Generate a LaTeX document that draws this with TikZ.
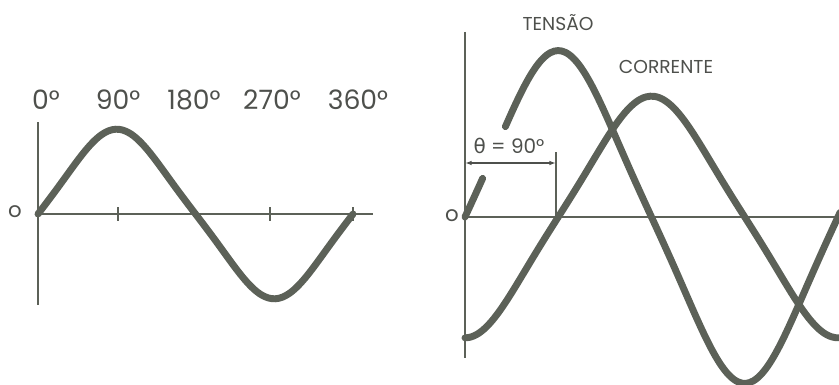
\documentclass[tikz,border=0pt]{standalone}
\usepackage{fontspec}
\setmainfont{Poppins}
\newfontfamily\greekfont{DejaVu Sans}
\usepackage{tikz}
\usetikzlibrary{arrows.meta,positioning,calc}
\definecolor{wgray}{RGB}{92,97,88}
\definecolor{tgray}{RGB}{78,80,76}

\begin{document}
\begin{tikzpicture}[x=0.75pt,y=-0.75pt,
  wave/.style={wgray,line width=5.2pt,line cap=round},
  axis/.style={wgray,line width=1.5pt},
  tick/.style={wgray,line width=1.5pt},
  deg/.style={text=tgray,font=\fontsize{20}{20}\selectfont,inner sep=0pt},
  zer/.style={text=tgray,font=\fontsize{16}{16}\selectfont,inner sep=0pt},
  lbl/.style={text=tgray,font=\fontsize{14}{14}\selectfont,inner sep=0pt},
  dim/.style={{Latex[length=5pt,width=3.5pt]}-{Latex[length=5pt,width=3.5pt]},tgray,line width=1pt}]
\useasboundingbox (0,0) rectangle (839,385);
% left: one period
\coordinate (o1) at (38,214);
\coordinate (v1t) at (38,122);
\coordinate (v1b) at (38,305);
\coordinate (h1e) at (373,214);
\draw[axis] (v1t) -- (v1b);
\draw[axis] (o1) -- (h1e);
\foreach \t in {118,270,353}
  \draw[tick] (\t,207) -- (\t,221);
\draw[wave] plot[domain=0:360,samples=90,smooth] ({38+\x*0.875},{214-80*(sin(\x)-0.06*sin(3*\x))});
\node[zer] (z1) at (15,212) {o};
\node[deg] (d0) at (46,100) {0°};
\node[deg] (d90) at (118,100) {90°};
\node[deg] (d180) at (194,100) {180°};
\node[deg] (d270) at (272,100) {270°};
\node[deg] (d360) at (358,100) {360°};
% right: tension and current
\coordinate (o2) at (465,217);
\coordinate (v2t) at (465,32);
\coordinate (v2b) at (465,358);
\coordinate (h2e) at (839,217);
\draw[axis] (v2t) -- (v2b);
\draw[axis] (o2) -- (h2e);
\draw[wave] plot[domain=0:17,samples=8,smooth] ({465+\x*1.036},{217-157*(sin(\x)-0.06*sin(3*\x))});
\draw[wave] plot[domain=39:362,samples=90,smooth] ({465+\x*1.036},{217-157*(sin(\x)-0.06*sin(3*\x))});
\draw[wave] plot[domain=0:362,samples=90,smooth] ({465+\x*1.036},{217+114*(cos(\x)+0.06*cos(3*\x))});
\node[zer] (z2) at (452,216) {o};
\node[lbl] (ten) at (558,23) {TENSÃO};
\node[lbl] (cor) at (666,67) {CORRENTE};
% phase shift
\coordinate (qt) at (556,152);
\coordinate (qb) at (556,217);
\draw[axis,line width=1.2pt] (qt) -- (qb);
\coordinate (a1) at (465,163);
\coordinate (a2) at (556,163);
\draw[dim] (a1) -- (a2);
\node[lbl,font=\fontsize{15}{15}\selectfont] (th) at (509,146) {{\greekfont θ} = 90°};
\end{tikzpicture}
\end{document}
